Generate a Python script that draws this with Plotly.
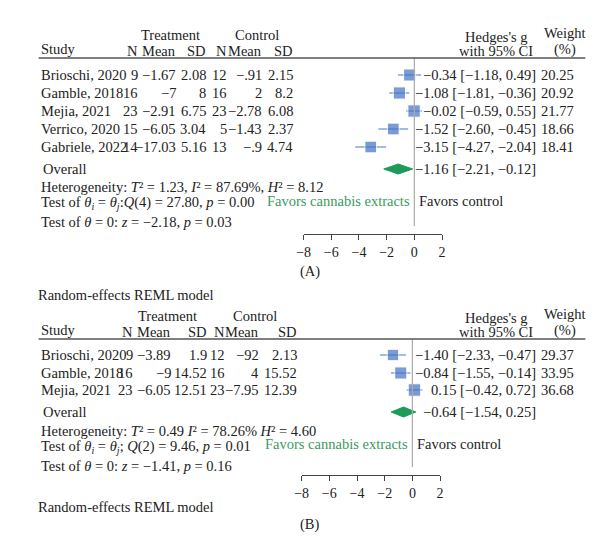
import plotly.graph_objects as go

W, H = 600, 543
FONT = "Liberation Serif"
FS = 14.5

# Panel A data
a_study = ["Brioschi, 2020", "Gamble, 2018", "Mejia, 2021", "Verrico, 2020", "Gabriele, 2022"]
a_tn = ["9", "16", "23", "15", "14"]
a_tmean = ["−1.67", "−7", "−2.91", "−6.05", "−17.03"]
a_tsd = ["2.08", "8", "6.75", "3.04", "5.16"]
a_cn = ["12", "16", "23", "5", "13"]
a_cmean = ["−.91", "2", "−2.78", "−1.43", "−.9"]
a_csd = ["2.15", "8.2", "6.08", "2.37", "4.74"]
a_g = [-0.34, -1.08, -0.02, -1.52, -3.15]
a_lo = [-1.18, -1.81, -0.59, -2.60, -4.27]
a_hi = [0.49, -0.36, 0.55, -0.45, -2.04]
a_w = [20.25, 20.92, 21.77, 18.66, 18.41]
a_overall = (-1.16, -2.21, -0.12)
a_stats = ["Heterogeneity: <i>T</i>² = 1.23, <i>I</i>² = 87.69%, <i>H</i>² = 8.12",
           "Test of <i>θ<sub>i</sub></i> = <i>θ<sub>j</sub></i>:<i>Q</i>(4) = 27.80, <i>p</i> = 0.00",
           "Test of <i>θ</i> = 0: <i>z</i> = −2.18, <i>p</i> = 0.03"]

# Panel B data
b_study = ["Brioschi, 2020", "Gamble, 2018", "Mejia, 2021"]
b_tn = ["9", "16", "23"]
b_tmean = ["−3.89", "−9", "−6.05"]
b_tsd = ["1.9", "14.52", "12.51"]
b_cn = ["12", "16", "23"]
b_cmean = ["−92", "4", "−7.95"]
b_csd = ["2.13", "15.52", "12.39"]
b_g = [-1.40, -0.84, 0.15]
b_lo = [-2.33, -1.55, -0.42]
b_hi = [-0.47, -0.14, 0.72]
b_w = [29.37, 33.95, 36.68]
b_overall = (-0.64, -1.54, 0.25)
b_stats = ["Heterogeneity: <i>T</i>² = 0.49 <i>I</i>² = 78.26% <i>H</i>² = 4.60",
           "Test of <i>θ<sub>i</sub></i> = <i>θ<sub>j</sub></i>; <i>Q</i>(2) = 9.46, <i>p</i> = 0.01",
           "Test of <i>θ</i> = 0: <i>z</i> = −1.41, <i>p</i> = 0.16"]

ticks = [-8, -6, -4, -2, 0, 2]

fig = go.Figure()
ann = []
shapes = []

def fy(py):
    return 1 - py / H

def fx(px):
    return px / W

def txt(x, y, s, anchor="left", color="#222", size=FS):
    ann.append(dict(x=fx(x), y=fy(y), xref="paper", yref="paper", text=s, showarrow=False,
                    xanchor=anchor, yanchor="middle", font=dict(family=FONT, size=size, color=color)))

def fmt(a, b, c):
    return ("%.2f [%.2f, %.2f]" % (a, b, c)).replace("-", "−")

def panel(idx, top, line_y, rows_y, ov_y, stat_y, fav_y, axis_y, x8, x2,
          study, tn, tm, ts, cn, cm, cs, g, lo, hi, w, ov, stats, colx, sz):
    xa = "xaxis" if idx == 1 else "xaxis%d" % idx
    ya = "yaxis" if idx == 1 else "yaxis%d" % idx
    xr = "x" if idx == 1 else "x%d" % idx
    yr = "y" if idx == 1 else "y%d" % idx
    fig.update_layout(**{
        xa: dict(domain=[fx(x8), fx(x2)], range=[-8, 2], anchor=yr, tickvals=ticks,
                 ticktext=["−8", "−6", "−4", "−2", "0", "2"], showline=True, linecolor="#444",
                 ticks="outside", ticklen=5, tickcolor="#444", showgrid=False, zeroline=False,
                 tickfont=dict(family=FONT, size=14, color="#222")),
        ya: dict(domain=[fy(axis_y), fy(line_y)], range=[axis_y, line_y], visible=False,
                 showgrid=False, zeroline=False),
    })
    txt(colx["tc"], top, "Treatment", "center")
    txt(colx["cc"], top, "Control", "center")
    hy = top + 16
    txt(24, hy - 2, "Study")
    for k, lab in zip(["tn", "tm", "ts", "cn", "cm", "cs"], ["N", "Mean", "SD", "N", "Mean", "SD"]):
        txt(colx[k], hy, lab, "right")
    txt(490, top + 2, "Hedges's g", "center")
    txt(490, hy, "with 95% CI", "center")
    txt(560, top - 2, "Weight", "center")
    txt(560, hy - 2, "(%)", "center")
    shapes.append(dict(type="line", xref="paper", yref="paper", x0=fx(24), x1=fx(581),
                       y0=fy(line_y), y1=fy(line_y), line=dict(color="#555", width=1.5)))
    for i, yy in enumerate(rows_y):
        txt(24, yy, study[i])
        for k, arr in zip(["tn", "tm", "ts", "cn", "cm", "cs"], [tn, tm, ts, cn, cm, cs]):
            txt(colx[k], yy, arr[i], "right")
        txt(533, yy, fmt(g[i], lo[i], hi[i]), "right")
        txt(571, yy, "%.2f" % w[i], "right")
    fig.add_trace(go.Scatter(x=g, y=rows_y, xaxis=xr, yaxis=yr, mode="markers",
                             marker=dict(symbol="square", color="#4472c4",
                                         size=[sz(wi) for wi in w]),
                             error_x=dict(type="data", symmetric=False,
                                          array=[h - v for h, v in zip(hi, g)],
                                          arrayminus=[v - l for v, l in zip(g, lo)],
                                          color="#7fa6dc", thickness=1.6, width=0),
                             showlegend=False, hoverinfo="skip"))
    fig.add_trace(go.Scatter(x=[ov[1], ov[0], ov[2], ov[0], ov[1]],
                             y=[ov_y, ov_y - 5, ov_y, ov_y + 5, ov_y], xaxis=xr, yaxis=yr,
                             mode="lines", fill="toself", fillcolor="#1e9a5a",
                             line=dict(color="#1e9a5a", width=1), showlegend=False, hoverinfo="skip"))
    txt(26, ov_y, "Overall")
    txt(533, ov_y, fmt(*ov), "right")
    for s, yy in zip(stats, stat_y):
        txt(24, yy, s)
    fig.add_trace(go.Scatter(x=[0, 0], y=[line_y, axis_y - 8], xaxis=xr, yaxis=yr, mode="lines",
                             line=dict(color="#aaa", width=1.2), showlegend=False, hoverinfo="skip"))
    x0px = x8 + (x2 - x8) * 0.8
    txt(x0px - 2, fav_y, "Favors cannabis extracts", "right", color="#3a9a5e")
    txt(x0px + 3, fav_y, "Favors control", "left")

colA = dict(tn=127, tm=166, ts=197, cn=218, cm=254, cs=285, tc=158, cc=247)
panel(1, 27, 50, [67, 85, 103, 121, 139], 161, [179, 195, 214], 193, 226, 294, 435,
      a_study, a_tn, a_tmean, a_tsd, a_cn, a_cmean, a_csd, a_g, a_lo, a_hi, a_w, a_overall, a_stats,
      colA, lambda w: 8 + w * 0.2)
colB = dict(tn=122, tm=161, ts=198, cn=216, cm=251, cs=289, tc=155, cc=244)
panel(2, 308, 331, [347, 365, 382], 404, [423, 439, 458], 436, 467, 292, 433,
      b_study, b_tn, b_tmean, b_tsd, b_cn, b_cmean, b_csd, b_g, b_lo, b_hi, b_w, b_overall, b_stats,
      colB, lambda w: 7 + w * 0.15)

txt(300, 263, "(A)", "center")
txt(21, 287, "Random-effects REML model")
txt(21, 499, "Random-effects REML model")
txt(300, 516, "(B)", "center")

fig.update_layout(width=W, height=H, margin=dict(l=0, r=0, t=0, b=0),
                  paper_bgcolor="white", plot_bgcolor="white",
                  annotations=ann, shapes=shapes)
fig.write_html("out.html")
